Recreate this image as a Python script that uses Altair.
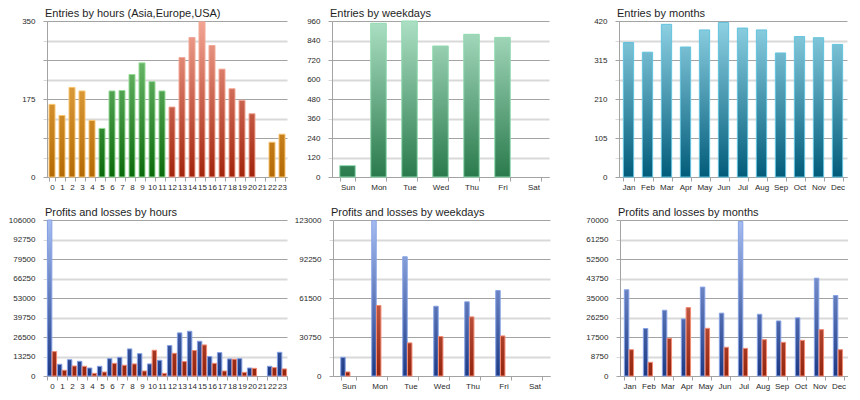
import altair as alt
import pandas as pd

# ---- data ------------------------------------------------------------------
HOURS = [str(h) for h in range(24)]
HOUR_SESSION = ["asia"] * 5 + ["europe"] * 7 + ["usa"] * 9 + ["asia"] * 3
ENTRIES_HOUR = [163, 138, 201, 193, 127, 109, 193, 194, 230, 256, 214, 193,
                157, 268, 313, 348, 295, 242, 198, 172, 142, 0, 78, 96]
PROFIT_HOUR = [106000, 7950, 11100, 10000, 5450, 6600, 11800, 12700, 18400, 15200, 8200, 10700,
               20700, 29300, 30400, 23600, 13200, 15900, 11600, 11800, 5450, 0, 6600, 16100]
LOSS_HOUR = [16600, 3900, 6800, 6600, 1800, 2700, 8600, 7300, 8200, 3400, 17500, 1800,
             15400, 9800, 17300, 21100, 8600, 3400, 11400, 2500, 5200, 0, 5700, 4800]

WEEKDAYS = ["Sun", "Mon", "Tue", "Wed", "Thu", "Fri", "Sat"]
ENTRIES_WD = [70, 946, 960, 806, 878, 859, 0]
PROFIT_WD = [14750, 122500, 94000, 55000, 58500, 67400, 0]
LOSS_WD = [3200, 55600, 26100, 31100, 46600, 31600, 0]

MONTHS = ["Jan", "Feb", "Mar", "Apr", "May", "Jun", "Jul", "Aug", "Sep", "Oct", "Nov", "Dec"]
ENTRIES_M = [362, 336, 411, 350, 396, 416, 401, 396, 334, 378, 375, 357]
PROFIT_M = [38700, 21300, 29500, 25600, 39900, 28200, 69300, 27700, 24700, 26100, 43900, 36100]
LOSS_M = [11800, 6150, 16900, 30700, 21400, 12900, 12400, 16300, 15100, 16000, 20800, 11800]

SERIES = ["Profit", "Loss"]

# light (top of plot), dark (baseline), outline
PALETTES = {
    "asia": ("#f7bb5e", "#b46a04", "#f8c470"),
    "europe": ("#8ad08a", "#0a6a0a", "#94d994"),
    "usa": ("#f3a594", "#a2240c", "#f2a896"),
    "mint": ("#acdfc4", "#2a7a4c", "#90dab0"),
    "teal": ("#8fd2e4", "#025c7a", "#62c3de"),
    "blue": ("#a6bdf2", "#1c3985", "#86a2e4"),
    "loss": ("#f3957f", "#93240e", "#f28a74"),
}

FONT = "Liberation Sans"
DARK_LINE = "#a3a3a3"
LIGHT_LINE = "#d9d9d9"


def mix(c1, c2, t):
    a = [int(c1[i:i + 2], 16) for i in (1, 3, 5)]
    b = [int(c2[i:i + 2], 16) for i in (1, 3, 5)]
    return "#" + "".join(f"{round(x + (y - x) * t):02x}" for x, y in zip(a, b))


def gradient(pal, frac):
    # colour at the bar top depends on how high it reaches in the plot
    light, dark, _ = PALETTES[pal]
    return alt.Gradient(
        gradient="linear", x1=0, x2=0, y1=0, y2=1,
        stops=[alt.GradientStop(color=mix(dark, light, frac), offset=0),
               alt.GradientStop(color=dark, offset=1)],
    )


def single_rows(cats, vals, pals):
    return [{"cat": c, "series": "Entries", "value": v, "pal": p}
            for c, v, p in zip(cats, vals, pals)]


def pl_rows(cats, prof, loss):
    out = []
    for c, p, l in zip(cats, prof, loss):
        out.append({"cat": c, "series": "Profit", "value": p, "pal": "blue"})
        out.append({"cat": c, "series": "Loss", "value": l, "pal": "loss"})
    return out


def panel(title, cats, rows, ymax, label_every, width, y_extent, pad, grouped=False):
    ticks = [ymax * i / 8 for i in range(9)]
    even = "round(datum.index * 8) % 2 == 0"
    x = alt.X(
        "cat:N", title=None,
        scale=alt.Scale(domain=cats, paddingInner=pad, paddingOuter=pad / 2),
        axis=alt.Axis(labelAngle=0, tickBand="extent", tickSize=4, labelPadding=2,
                      labelOverlap=False, grid=False, domainColor=DARK_LINE,
                      tickColor=DARK_LINE, minExtent=16, maxExtent=16),
    )
    y = alt.Y(
        "value:Q", title=None,
        scale=alt.Scale(domain=[0, ymax], nice=False, zero=True),
        axis=alt.Axis(
            values=ticks, format="d", tickSize=4, labelPadding=8,
            labelExpr=f"round(datum.index * 8) % {label_every} == 0 ? datum.label : ''",
            domainColor=DARK_LINE,
            gridColor={"condition": {"test": even, "value": DARK_LINE}, "value": LIGHT_LINE},
            gridWidth={"condition": {"test": even, "value": 1}, "value": 2},
            tickColor={"condition": {"test": even, "value": DARK_LINE}, "value": LIGHT_LINE},
            minExtent=y_extent, maxExtent=y_extent,
        ),
    )
    enc = dict(x=x, y=y)
    if grouped:
        enc["xOffset"] = alt.XOffset("series:N",
                                     scale=alt.Scale(domain=SERIES, paddingInner=0.06))

    layers = [alt.Chart(pd.DataFrame(rows)).mark_bar(opacity=0).encode(**enc)]
    for r in rows:
        if r["value"] <= 0:
            continue
        layers.append(
            alt.Chart(pd.DataFrame([r]))
            .mark_bar(fill=gradient(r["pal"], r["value"] / ymax),
                      stroke=PALETTES[r["pal"]][2], strokeWidth=1)
            .encode(**enc)
        )
    return alt.layer(*layers).properties(
        width=width, height=156,
        title=alt.TitleParams(title, anchor="start", frame="group", offset=-2, dx=-2),
    )


top = alt.hconcat(
    panel("Entries by hours (Asia,Europe,USA)", HOURS,
          single_rows(HOURS, ENTRIES_HOUR, HOUR_SESSION), 350, 4, 240, 35, 0.4),
    panel("Entries by weekdays", WEEKDAYS,
          single_rows(WEEKDAYS, ENTRIES_WD, ["mint"] * 7), 960, 1, 217, 45, 0.5),
    panel("Entries by months", MONTHS,
          single_rows(MONTHS, ENTRIES_M, ["teal"] * 12), 420, 2, 228, 70, 0.46),
    spacing=0,
)
bottom = alt.hconcat(
    panel("Profits and losses by hours", HOURS,
          pl_rows(HOURS, PROFIT_HOUR, LOSS_HOUR), 106000, 1, 240, 35, 0.08, grouped=True),
    panel("Profits and losses by weekdays", WEEKDAYS,
          pl_rows(WEEKDAYS, PROFIT_WD, LOSS_WD), 123000, 2, 217, 45, 0.5, grouped=True),
    panel("Profits and losses by months", MONTHS,
          pl_rows(MONTHS, PROFIT_M, LOSS_M), 70000, 1, 228, 70, 0.46, grouped=True),
    spacing=0,
)

chart = (
    alt.vconcat(top, bottom, spacing=14)
    .properties(padding={"left": 0, "top": 0, "right": 0, "bottom": 0})
    .configure_view(stroke=None)
    .configure_axis(labelFont=FONT, labelFontSize=8, labelColor="#2a2a2a")
    .configure_title(font=FONT, fontSize=11, fontWeight="normal", color="#1e1e1e")
)

chart.save("out.html", embed_options={"renderer": "svg", "actions": False})
